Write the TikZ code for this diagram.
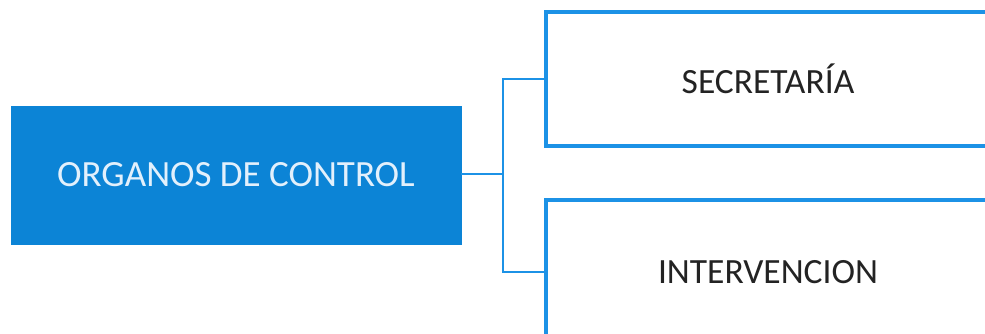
\documentclass[tikz,border=0pt]{standalone}
\usepackage{fontspec}
\setmainfont{Carlito}
\usetikzlibrary{positioning}
\definecolor{ctrlblue}{RGB}{12,132,214}
\definecolor{lineblue}{RGB}{28,146,230}
\definecolor{pale}{RGB}{226,240,252}
\definecolor{ink}{RGB}{35,35,35}

\begin{document}
\begin{tikzpicture}[
    x=1pt, y=-1pt,
    every node/.style={inner sep=0pt},
    organ/.style={fill=ctrlblue, draw=ctrlblue, text=pale, minimum width=450pt, minimum height=138pt, font=\fontsize{37}{42}\selectfont},
    unit/.style={draw=lineblue, line width=3.4pt, text=ink, minimum width=444pt, font=\fontsize{35.5}{40}\selectfont},
    link/.style={draw=lineblue, line width=2pt}
]
\useasboundingbox (0,0) rectangle (985,333);
\clip (0,0) rectangle (985,333);

\node[organ] (oc) at (236,175) {ORGANOS DE CONTROL};
\node[unit, minimum height=134pt] (sec) at (768,79) {SECRETARÍA};
\node[unit, minimum height=144pt] (int) at (768,272) {INTERVENCION};

\coordinate (fork) at (503,174);

\draw[link] (oc.east |- fork) -- (fork);
\draw[link] (sec.west) -| (fork) |- (int.west);
\end{tikzpicture}
\end{document}
